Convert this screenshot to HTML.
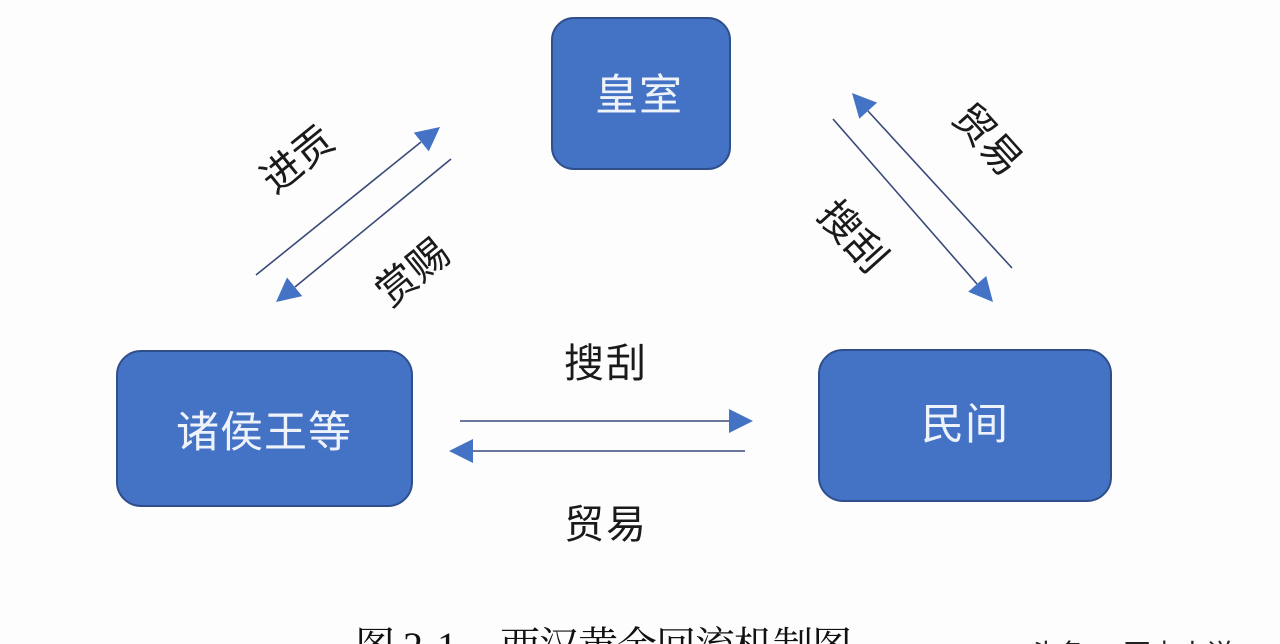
<!DOCTYPE html>
<html>
<head>
<meta charset="utf-8">
<style>
  html,body{margin:0;padding:0;background:#fdfdfe;}
  body{width:1280px;height:644px;overflow:hidden;}
  svg{display:block;}
  .cjk{font-family:"Liberation Sans","Noto Sans CJK SC",sans-serif;}
  .serif{font-family:"Liberation Serif","Noto Serif CJK SC",serif;}
</style>
</head>
<body>
<svg width="1280" height="644" viewBox="0 0 1280 644" xmlns="http://www.w3.org/2000/svg">
  <rect x="0" y="0" width="1280" height="644" fill="#fdfdfe"/>

  <!-- Boxes -->
  <rect x="552" y="18" width="178" height="151" rx="22" ry="22" fill="#4472c4" stroke="#2f4f8c" stroke-width="2"/>
  <rect x="117" y="351" width="295" height="155" rx="24" ry="24" fill="#4472c4" stroke="#2f4f8c" stroke-width="2"/>
  <rect x="819" y="350" width="292" height="151" rx="24" ry="24" fill="#4472c4" stroke="#2f4f8c" stroke-width="2"/>

  <g class="cjk" fill="#eef3fb" font-size="43" text-anchor="middle" dominant-baseline="central">
    <text x="639" y="96" letter-spacing="1">皇室</text>
    <text x="264" y="433" letter-spacing="1">诸侯王等</text>
    <text x="965" y="425" letter-spacing="1">民间</text>
  </g>

  <!-- Connector lines -->
  <g stroke="#3a4a78" stroke-width="1.6" fill="none">
    <line x1="460" y1="421" x2="731" y2="421"/>
    <line x1="473" y1="451" x2="745" y2="451"/>
    <line x1="256" y1="275" x2="421" y2="142"/>
    <line x1="451" y1="159" x2="295" y2="287"/>
    <line x1="1012" y1="268" x2="868" y2="111"/>
    <line x1="833" y1="119" x2="977" y2="284"/>
  </g>

  <!-- Arrowheads -->
  <g fill="#4472c4">
    <polygon points="753,421 729,409 729,433"/>
    <polygon points="449,451 473,439 473,463"/>
    <polygon points="440,127 428.8,151.4 413.8,132.6"/>
    <polygon points="276,302 302.2,296.1 287,277.5"/>
    <polygon points="852,93 877.1,102.6 859.3,118.8"/>
    <polygon points="993,302 986.2,276 968.2,291.8"/>
  </g>

  <!-- Labels -->
  <g class="cjk" fill="#1a1a1a" font-size="40" text-anchor="middle" dominant-baseline="central">
    <text x="606" y="364" letter-spacing="2">搜刮</text>
    <text x="606" y="525" letter-spacing="2">贸易</text>
    <text x="298" y="160" transform="rotate(-39 298 160)">进贡</text>
    <text x="413" y="273" transform="rotate(-39 413 273)">赏赐</text>
    <text x="987" y="140" transform="rotate(48 987 140)">贸易</text>
    <text x="852" y="237" transform="rotate(48 852 237)">搜刮</text>
  </g>

  <!-- Caption (cut off at bottom) -->
  <g class="serif" fill="#111" font-size="40">
    <text x="355" y="660">图</text>
    <text x="403" y="660">2</text>
    <text x="423" y="660">-</text>
    <text x="437" y="660">1</text>
    <text x="500" y="660" letter-spacing="-1">西汉黄金回流机制图</text>
  </g>

  <!-- Watermark (cut off) -->
  <g class="cjk" fill="#222" font-size="28">
    <text x="1030" y="664">头条 @历史小说</text>
  </g>
</svg>
</body>
</html>
